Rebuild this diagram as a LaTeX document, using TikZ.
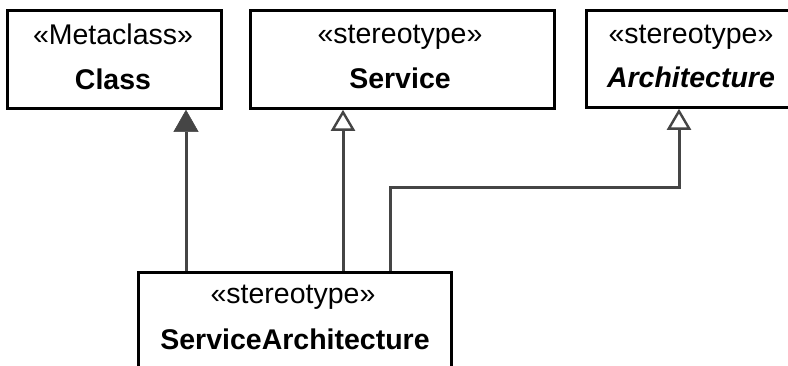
\documentclass[tikz,border=0pt]{standalone}
\usepackage{fontspec}
\setmainfont{Liberation Sans}
\usetikzlibrary{arrows.meta}
\definecolor{linegray}{HTML}{454545}
\tikzset{
  umlbox/.style={draw=black, line width=2.8pt, fill=white, rectangle, inner sep=0pt, anchor=north west},
  umltxt/.style={anchor=base, inner sep=0pt, font=\fontsize{28.5}{34}\selectfont},
  umlbold/.style={umltxt, font=\fontsize{28.5}{34}\selectfont\bfseries},
  conn/.style={draw=linegray, line width=3pt},
  genopen/.style={conn, -{Triangle[length=21pt, width=24pt, fill=white, line width=2.4pt]}},
  genfill/.style={conn, -{Triangle[length=22pt, width=25pt, fill=linegray, line width=0.5pt]}},
}
\begin{document}
\begin{tikzpicture}[x=1pt, y=-1pt]
\useasboundingbox (0,0) rectangle (788,366);
\clip (0,0) rectangle (788,366);
\fill[white] (0,0) rectangle (788,366);
% boxes
\node[umlbox, minimum width=214pt, minimum height=98pt] (cls) at (6,9) {};
\node[umlbox, minimum width=304pt, minimum height=98pt] (srv) at (249,9) {};
\node[umlbox, minimum width=212pt, minimum height=97pt] (arc) at (585,9) {};
\node[umlbox, minimum width=313pt, minimum height=130pt] (sa) at (137,271) {};
% texts
\node[umltxt] (clsst) at (113,45) {«Metaclass»};
\node[umlbold] (clsnm) at (113,90) {Class};
\node[umltxt] (srvst) at (400,44) {«stereotype»};
\node[umlbold] (srvnm) at (400,89) {Service};
\node[umltxt] (arcst) at (691,44) {«stereotype»};
\node[umlbold, font=\fontsize{28.5}{34}\selectfont\bfseries\itshape] (arcnm) at (691,88) {Architecture};
\node[umltxt] (sast) at (293,304) {«stereotype»};
\node[umlbold] (sanm) at (295,350) {ServiceArchitecture};
% connectors
\coordinate (sa1) at ([xshift=49pt]sa.north west);
\coordinate (sa2) at ([xshift=206pt]sa.north west);
\coordinate (sa3) at ([xshift=253pt]sa.north west);
\coordinate (arcx) at ([xshift=94pt]arc.south west);
\coordinate (bend1) at ([yshift=83pt]sa3);
\draw[genfill] (sa1) -- (sa1 |- cls.south);
\draw[genopen] (sa2) -- (sa2 |- srv.south);
\draw[genopen] (sa3) -- (bend1) -- (bend1 -| arcx) -- (arcx);
\end{tikzpicture}
\end{document}
